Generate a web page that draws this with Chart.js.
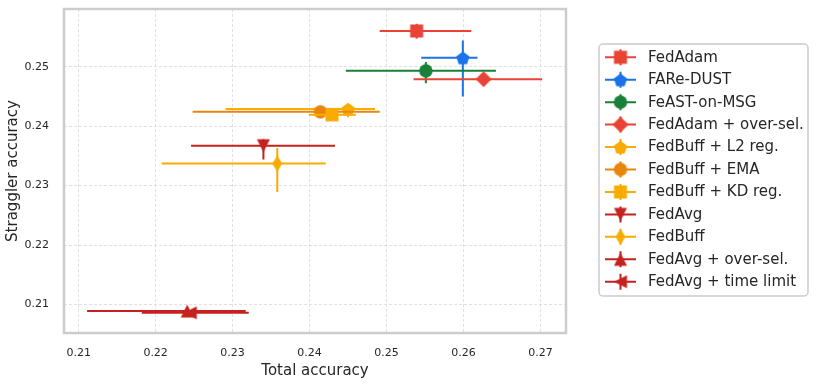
<!DOCTYPE html>
<html>
<head>
<meta charset="utf-8">
<script src="https://cdn.jsdelivr.net/npm/chart.js@4.4.0/dist/chart.umd.min.js"></script>
<style>
  body { margin: 0; background: #fff; }
  #wrap { width: 816px; height: 385px; }
</style>
</head>
<body>
<div id="wrap"><canvas id="chart" width="816" height="385"></canvas></div>
<script>
// data
const methods = ['FedAdam', 'FARe-DUST', 'FeAST-on-MSG', 'FedAdam + over-sel.', 'FedBuff + L2 reg.',
  'FedBuff + EMA', 'FedBuff + KD reg.', 'FedAvg', 'FedBuff', 'FedAvg + over-sel.', 'FedAvg + time limit'];
const totalAcc     = [0.2539, 0.2599, 0.2551, 0.2626, 0.2450, 0.2414, 0.2429, 0.2340, 0.2358, 0.2241, 0.2245];
const stragglerAcc = [0.2560, 0.2515, 0.2493, 0.2479, 0.2429, 0.2424, 0.2419, 0.2367, 0.2337, 0.2089, 0.2086];
const totalLow     = [0.2491, 0.2545, 0.2447, 0.2535, 0.2291, 0.2248, 0.2399, 0.2246, 0.2208, 0.2111, 0.2182];
const totalHigh    = [0.2610, 0.2618, 0.2642, 0.2702, 0.2485, 0.2491, 0.2460, 0.2433, 0.2421, 0.2317, 0.2321];
const stragLow     = [0.2547, 0.2450, 0.2472, 0.2477, 0.2415, 0.2417, 0.2417, 0.2344, 0.2289, 0.2087, 0.2084];
const stragHigh    = [0.2572, 0.2544, 0.2508, 0.2481, 0.2434, 0.2434, 0.2421, 0.2378, 0.2363, 0.2091, 0.2088];

const xTicks = [0.21, 0.22, 0.23, 0.24, 0.25, 0.26, 0.27];
const xTickLabels = ['0.21', '0.22', '0.23', '0.24', '0.25', '0.26', '0.27'];
const yTicks = [0.21, 0.22, 0.23, 0.24, 0.25];
const yTickLabels = ['0.21', '0.22', '0.23', '0.24', '0.25'];

// styles
const colors = ['#EA4335', '#1A73E8', '#188038', '#EA4335', '#F9AB00',
  '#E8860B', '#F9AB00', '#C5221F', '#F9AB00', '#C5221F', '#C5221F'];
const shapes = ['s', 'p', 'o', 'D', 'p', 'o', 's', 'v', 'd', '^', '<'];
const FONT = "'DejaVu Sans', sans-serif";
const TEXT = '#262626';

function makeMarker(shape, color) {
  const c = document.createElement('canvas');
  c.width = 20; c.height = 20;
  const g = c.getContext('2d');
  g.fillStyle = color;
  g.translate(10, 10);
  g.beginPath();
  if (shape === 's') {
    g.rect(-6.5, -6.5, 13, 13);
  } else if (shape === 'o') {
    g.arc(0, 0, 6.7, 0, Math.PI * 2);
  } else if (shape === 'p') {
    for (let i = 0; i < 5; i++) {
      const a = -Math.PI / 2 + i * 2 * Math.PI / 5;
      const px = Math.cos(a) * 7, py = Math.sin(a) * 7 + 0.8;
      i ? g.lineTo(px, py) : g.moveTo(px, py);
    }
  } else if (shape === 'D') {
    g.moveTo(0, -8); g.lineTo(8, 0); g.lineTo(0, 8); g.lineTo(-8, 0);
  } else if (shape === 'd') {
    g.moveTo(0, -8); g.lineTo(5, 0); g.lineTo(0, 8); g.lineTo(-5, 0);
  } else if (shape === '^') {
    g.moveTo(0, -6.5); g.lineTo(6.5, 6.5); g.lineTo(-6.5, 6.5);
  } else if (shape === 'v') {
    g.moveTo(0, 6.5); g.lineTo(6.5, -6.5); g.lineTo(-6.5, -6.5);
  } else if (shape === '<') {
    g.moveTo(-6.5, 0); g.lineTo(6.5, -6.5); g.lineTo(6.5, 6.5);
  }
  g.closePath();
  g.fill();
  return c;
}

const markers = shapes.map((s, i) => makeMarker(s, colors[i]));

const datasets = methods.map((name, i) => ({
  label: name,
  data: [{ x: totalAcc[i], y: stragglerAcc[i] }],
  pointStyle: markers[i],
  pointRadius: 8,
  backgroundColor: colors[i],
  borderColor: colors[i],
  order: -i
}));

// error bars, drawn under each marker
const errorBars = {
  id: 'errorBars',
  beforeDatasetDraw(chart, args) {
    const i = args.index;
    const xs = chart.scales.x, ys = chart.scales.y;
    const ctx = chart.ctx;
    const px = xs.getPixelForValue(totalAcc[i]);
    const py = ys.getPixelForValue(stragglerAcc[i]);
    ctx.save();
    ctx.strokeStyle = colors[i];
    ctx.lineWidth = 2;
    ctx.beginPath();
    ctx.moveTo(xs.getPixelForValue(totalLow[i]), py);
    ctx.lineTo(xs.getPixelForValue(totalHigh[i]), py);
    ctx.moveTo(px, ys.getPixelForValue(stragLow[i]));
    ctx.lineTo(px, ys.getPixelForValue(stragHigh[i]));
    ctx.stroke();
    ctx.restore();
  }
};

// plot frame and legend box
const frameAndLegend = {
  id: 'frameAndLegend',
  afterDraw(chart) {
    const ctx = chart.ctx;
    const a = chart.chartArea;
    ctx.save();
    ctx.strokeStyle = '#cccccc';
    ctx.lineWidth = 2.5;
    ctx.strokeRect(a.left, a.top, a.right - a.left, a.bottom - a.top);

    // legend
    const lx = 599, ly = 44, lw = 209, lh = 252;
    ctx.fillStyle = '#ffffff';
    ctx.strokeStyle = '#cccccc';
    ctx.lineWidth = 1.5;
    ctx.beginPath();
    ctx.roundRect(lx, ly, lw, lh, 4);
    ctx.fill();
    ctx.stroke();

    ctx.font = '15px ' + FONT;
    ctx.textBaseline = 'middle';
    ctx.textAlign = 'left';
    methods.forEach((name, i) => {
      const y = 57.3 + i * 22.44;
      ctx.strokeStyle = colors[i];
      ctx.lineWidth = 2;
      ctx.beginPath();
      ctx.moveTo(605, y); ctx.lineTo(636, y);
      ctx.moveTo(620.5, y - 8); ctx.lineTo(620.5, y + 8);
      ctx.stroke();
      ctx.drawImage(markers[i], 620.5 - 10, y - 10);
      ctx.fillStyle = TEXT;
      ctx.fillText(name, 648, y + 0.5);
    });
    ctx.restore();
  }
};

new Chart(document.getElementById('chart'), {
  type: 'scatter',
  data: { datasets },
  options: {
    responsive: false,
    animation: false,
    layout: { padding: { left: 0, top: 7, right: 250, bottom: 0 } },
    plugins: {
      legend: { display: false },
      tooltip: { enabled: false }
    },
    scales: {
      x: {
        type: 'linear',
        min: 0.2081,
        max: 0.2733,
        afterBuildTicks: s => { s.ticks = xTicks.map(v => ({ value: v })); },
        afterFit: s => { s.height = 52; s.paddingLeft = 0; s.paddingRight = 0; },
        ticks: {
          padding: 14,
          color: TEXT,
          font: { family: FONT, size: 11 },
          callback: (v, idx) => xTickLabels[idx]
        },
        grid: { color: '#d9d9d9', lineWidth: 0.8, drawTicks: false },
        border: { display: false, dash: [3, 2] },
        title: {
          display: true,
          text: 'Total accuracy',
          color: TEXT,
          font: { family: FONT, size: 15 },
          padding: { top: 0, bottom: 5 }
        }
      },
      y: {
        type: 'linear',
        min: 0.2052,
        max: 0.2597,
        afterBuildTicks: s => { s.ticks = yTicks.map(v => ({ value: v })); },
        afterFit: s => { s.width = 64; s.paddingTop = 0; s.paddingBottom = 0; },
        ticks: {
          padding: 15,
          color: TEXT,
          font: { family: FONT, size: 11 },
          callback: (v, idx) => yTickLabels[idx]
        },
        grid: { color: '#d9d9d9', lineWidth: 0.8, drawTicks: false },
        border: { display: false, dash: [3, 2] },
        title: {
          display: true,
          text: 'Straggler accuracy',
          color: TEXT,
          font: { family: FONT, size: 15 },
          padding: { top: 4, bottom: 0 }
        }
      }
    }
  },
  plugins: [errorBars, frameAndLegend]
});
</script>
</body>
</html>
